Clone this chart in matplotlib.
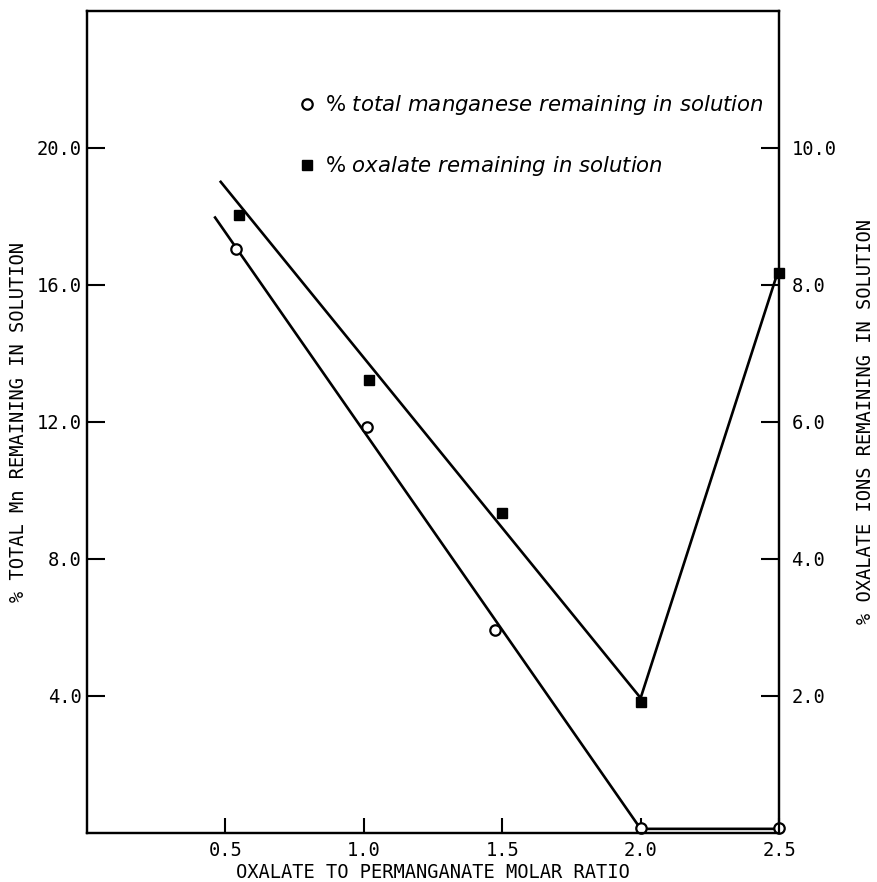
import matplotlib
matplotlib.use("Agg")
import matplotlib.pyplot as plt
from matplotlib.lines import Line2D

mn_ratio = [0.54, 1.01, 1.475, 2.0, 2.5]
mn_pct = [17.05, 11.85, 5.93, 0.15, 0.15]
ox_ratio = [0.55, 1.02, 1.5, 2.0, 2.5]
ox_pct = [9.02, 6.61, 4.67, 1.91, 8.18]

# hand-drawn fit lines, vertices
mn_fit_x = [0.46, 2.0, 2.5]
mn_fit_y = [18.0, 0.12, 0.12]
ox_fit_x = [0.48, 2.0, 2.49]
ox_fit_y = [9.52, 1.97, 8.12]

x_ticks = [0.5, 1.0, 1.5, 2.0, 2.5]
left_ticks = [4.0, 8.0, 12.0, 16.0, 20.0]
right_ticks = [2.0, 4.0, 6.0, 8.0, 10.0]

mono = "DejaVu Sans Mono"

fig = plt.figure(figsize=(8.77, 8.82), dpi=100)
ax = fig.add_axes([0.0992, 0.0556, 0.7891, 0.932])
ax2 = ax.twinx()

# Mn on the left axis
ax.plot(mn_fit_x, mn_fit_y, color="black", lw=1.9, solid_capstyle="butt")
ax.plot(mn_ratio, mn_pct, ls="none", marker="o", ms=7.5, mfc="white",
        mec="black", mew=1.6, clip_on=False, zorder=5)

# oxalate on the right axis
ax2.plot(ox_fit_x, ox_fit_y, color="black", lw=1.9, solid_capstyle="butt")
ax2.plot(ox_ratio, ox_pct, ls="none", marker="s", ms=7, mfc="black",
         mec="black", clip_on=False, zorder=5)

ax.set_xlim(0, 2.5)
ax.set_ylim(0, 24)
ax2.set_ylim(0, 12)

ax.set_xticks(x_ticks)
ax.set_xticklabels([f"{v:.1f}" for v in x_ticks], family=mono, fontsize=13.5)
ax.set_yticks(left_ticks)
ax.set_yticklabels([f"{v:.1f}" for v in left_ticks], family=mono, fontsize=13.5)
ax2.set_yticks(right_ticks)
ax2.set_yticklabels([f"{v:.1f}" for v in right_ticks], family=mono, fontsize=13.5)

ax.tick_params(axis="x", direction="in", length=11, width=1.5, pad=6)
ax.tick_params(axis="y", direction="in", length=13, width=1.5, pad=4)
ax2.tick_params(axis="y", direction="in", length=13, width=1.5, pad=9)

for a in (ax, ax2):
    for s in a.spines.values():
        s.set_linewidth(1.6)

ax.set_xlabel("OXALATE TO PERMANGANATE MOLAR RATIO", family=mono,
              fontsize=13.5, labelpad=2)
ax.set_ylabel("% TOTAL Mn REMAINING IN SOLUTION", family=mono,
              fontsize=13.5, labelpad=6)
ax2.set_ylabel("% OXALATE IONS REMAINING IN SOLUTION", family=mono,
               fontsize=13.5, labelpad=14)

handles = [
    Line2D([], [], ls="none", marker="o", ms=7.5, mfc="white", mec="black", mew=1.6),
    Line2D([], [], ls="none", marker="s", ms=7, mfc="black", mec="black"),
]
labels = [
    r"$\%$ total manganese remaining in solution",
    r"$\%$ oxalate remaining in solution",
]
leg = ax.legend(handles, labels, loc="center left", bbox_to_anchor=(0.305, 0.848),
                frameon=False, borderpad=0, borderaxespad=0, handlelength=0.8,
                handletextpad=0.45, labelspacing=1.75,
                prop={"family": "DejaVu Sans", "style": "italic", "size": 15.3})

fig.savefig("out.png", dpi=100)
